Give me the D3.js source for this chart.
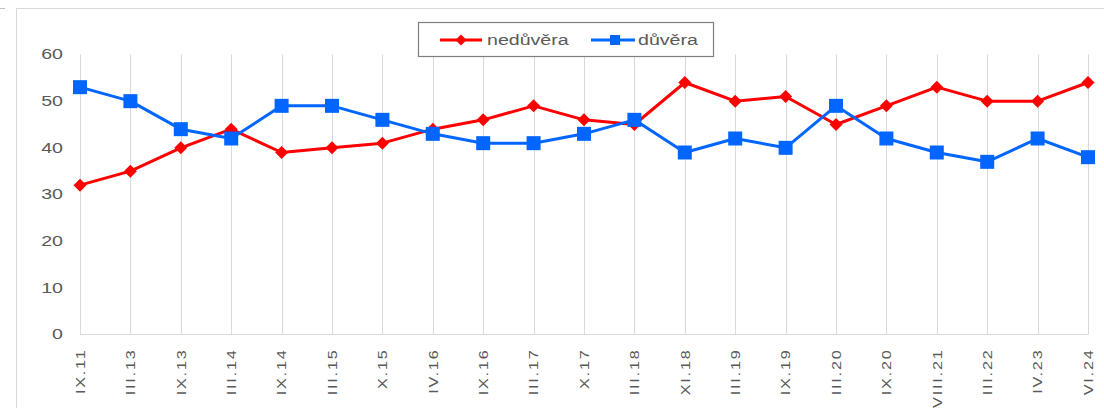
<!DOCTYPE html>
<html>
<head>
<meta charset="utf-8">
<script src="https://cdn.jsdelivr.net/npm/d3@7"></script>
<style>
  html, body { margin: 0; padding: 0; background: #ffffff; }
  svg { display: block; font-family: "Liberation Sans", Arial, sans-serif; }
</style>
</head>
<body>
<svg id="chart" width="1104" height="408"></svg>
<script>
const categories = ["IX.11","III.13","IX.13","III.14","IX.14","III.15","X.15","IV.16","IX.16","III.17","X.17","III.18","XI.18","III.19","IX.19","III.20","IX.20","VIII.21","III.22","IV.23","VI.24"];
const nedurera = [32,35,40,44,39,40,41,44,46,49,46,45,54,50,51,45,49,53,50,50,54];
const duvera   = [53,50,44,42,49,49,46,43,41,41,43,46,39,42,40,49,42,39,37,42,38];
const yTicks = [0,10,20,30,40,50,60];
const seriesNames = ["nedůvěra","důvěra"];

const svg = d3.select("#chart");
const RED = "#ff0000", BLUE = "#0066ff", GRID = "#d9d9d9", TXT = "#595959";
const STRETCH = 1.4;

// outer frame
svg.append("rect").attr("x",16.5).attr("y",8.5).attr("width",1100).attr("height",410)
  .attr("fill","none").attr("stroke",GRID).attr("stroke-width",1);
svg.append("line").attr("x1",0).attr("x2",5).attr("y1",8.5).attr("y2",8.5).attr("stroke","#bfbfbf");

const x = d3.scalePoint().domain(categories).range([80,1088]);
const y = d3.scaleLinear().domain([0,60]).range([334.5,54.5]);

// vertical gridlines
svg.append("g").selectAll("line").data(categories).join("line")
  .attr("x1",d=>Math.round(x(d))+0.5).attr("x2",d=>Math.round(x(d))+0.5)
  .attr("y1",y(60)).attr("y2",y(0))
  .attr("stroke",GRID).attr("stroke-width",1);

// x axis line
svg.append("line").attr("x1",80).attr("x2",1088).attr("y1",y(0)).attr("y2",y(0))
  .attr("stroke",GRID).attr("stroke-width",1);

// y labels
svg.append("g").selectAll("text").data(yTicks).join("text")
  .attr("transform",d=>`translate(63,${y(d)}) scale(${STRETCH},1)`)
  .attr("text-anchor","end").attr("dy","0.35em")
  .attr("font-size",14).attr("fill",TXT).text(d=>d);

// x labels
svg.append("g").selectAll("text").data(categories).join("text")
  .attr("transform",d=>`translate(${x(d)},348.5) rotate(-90) scale(1.2,1)`)
  .attr("text-anchor","end").attr("dy","0.35em")
  .attr("letter-spacing",1.5)
  .attr("font-size",13.5).attr("fill",TXT).text(d=>d);

const line = d3.line().x((d,i)=>x(categories[i])).y(d=>y(d));

function drawSeries(vals, color, marker){
  svg.append("path").datum(vals).attr("d",line)
    .attr("fill","none").attr("stroke",color).attr("stroke-width",3)
    .attr("stroke-linejoin","round");
  const g = svg.append("g");
  vals.forEach((v,i)=>{
    const cx = x(categories[i]), cy = y(v);
    if(marker==="diamond"){
      g.append("path").attr("d",`M${cx},${cy-6.5}L${cx+6.5},${cy}L${cx},${cy+6.5}L${cx-6.5},${cy}Z`).attr("fill",color);
    } else {
      g.append("rect").attr("x",cx-7).attr("y",cy-7).attr("width",14).attr("height",14).attr("fill",color);
    }
  });
}
drawSeries(nedurera, RED, "diamond");
drawSeries(duvera, BLUE, "square");

// legend
const lg = svg.append("g");
lg.append("rect").attr("x",418.5).attr("y",22.5).attr("width",295).attr("height",34)
  .attr("fill","#fff").attr("stroke","#7f7f7f").attr("stroke-width",1.2);
const ly = 40;
lg.append("line").attr("x1",440).attr("x2",482).attr("y1",ly).attr("y2",ly).attr("stroke",RED).attr("stroke-width",3);
lg.append("path").attr("d",`M461,${ly-5.5}L466.5,${ly}L461,${ly+5.5}L455.5,${ly}Z`).attr("fill",RED);
lg.append("text").attr("transform",`translate(487,${ly}) scale(${STRETCH},1)`).attr("dy","0.35em")
  .attr("font-size",14).attr("fill",TXT).text(seriesNames[0]);
lg.append("line").attr("x1",591).attr("x2",635).attr("y1",ly).attr("y2",ly).attr("stroke",BLUE).attr("stroke-width",3);
lg.append("rect").attr("x",610).attr("y",ly-5).attr("width",10).attr("height",10).attr("fill",BLUE);
lg.append("text").attr("transform",`translate(638,${ly}) scale(${STRETCH},1)`).attr("dy","0.35em")
  .attr("font-size",14).attr("fill",TXT).text(seriesNames[1]);
</script>
</body>
</html>
